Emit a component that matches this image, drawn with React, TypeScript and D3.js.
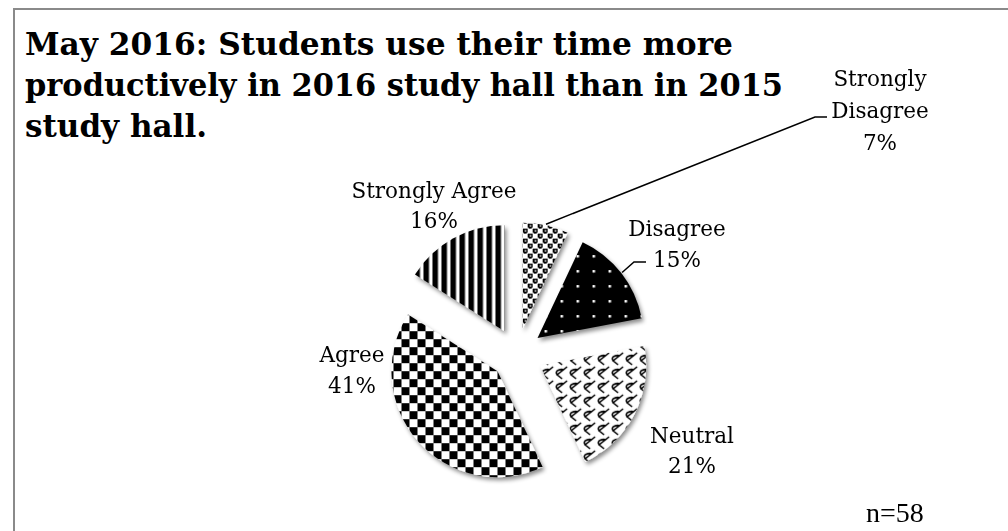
import React from 'react';
import * as d3 from 'd3';

const categories = ['Strongly Disagree', 'Disagree', 'Neutral', 'Agree', 'Strongly Agree'];
const values = [7, 15, 21, 41, 16];
const labelNames = [['Strongly', 'Disagree'], ['Disagree'], ['Neutral'], ['Agree'], ['Strongly Agree']];
const titleLines = [
  'May 2016: Students use their time more',
  'productively in 2016 study hall than in 2015',
  'study hall.',
];
const titleWidths = [708, 758, 182];
const sampleNote = 'n=58';

const W = 1008;
const H = 531;
const CX = 517;
const CY = 354;
const R = 106;
const EXPLODE = 26;

const labelLayout = [
  { x: 880, y: 86, dy: 32, leader: [[815, 117], [827, 117]] },
  { x: 677, y: 236, dy: 31, leader: [[634, 262], [646, 262]] },
  { x: 692, y: 443, dy: 30, leader: null },
  { x: 352, y: 362, dy: 31, leader: null },
  { x: 434, y: 198, dy: 30, leader: null },
];
const patternIds = ['pSD', 'pD', 'pN', 'pA', 'pSA'];

export default function App() {
  const pie = d3.pie<number>().sort(null).value((d) => d).startAngle(0).endAngle(2 * Math.PI);
  const arcs = pie(values);
  const arcGen = d3.arc<d3.PieArcDatum<number>>().innerRadius(0).outerRadius(R);
  const total = d3.sum(values);

  const offset = (a: d3.PieArcDatum<number>) => {
    const mid = (a.startAngle + a.endAngle) / 2;
    return [Math.sin(mid) * EXPLODE, -Math.cos(mid) * EXPLODE];
  };

  const labelFont = 'DejaVu Serif, serif';

  return (
    <svg width={W} height={H} style={{ position: 'absolute', left: 0, top: 0, background: '#fff' }}>
      <defs>
        <filter id="shadow" x="-20%" y="-20%" width="140%" height="140%">
          <feDropShadow dx="2" dy="3" stdDeviation="2.2" floodColor="#000" floodOpacity="0.45" />
        </filter>
        <pattern id="pSD" patternUnits="userSpaceOnUse" width="10" height="10">
          <rect width="10" height="10" fill="#fff" />
          <rect x="0" y="0" width="5" height="4" fill="#000" />
          <rect x="5" y="5" width="5" height="4" fill="#000" />
          <rect x="1" y="4" width="3" height="1" fill="#000" />
          <rect x="6" y="9" width="3" height="1" fill="#000" />
          <rect x="2" y="1.5" width="1.5" height="1.5" fill="#fff" />
          <rect x="7" y="6.5" width="1.5" height="1.5" fill="#fff" />
        </pattern>
        <pattern id="pD" patternUnits="userSpaceOnUse" width="16" height="15">
          <rect width="16" height="15" fill="#000" />
          <rect x="7" y="7" width="2.5" height="2.5" fill="#fff" />
        </pattern>
        <pattern id="pN" patternUnits="userSpaceOnUse" width="14" height="14">
          <rect width="14" height="14" fill="#fff" />
          <path d="M13,1 L3,9 L8,13 M3,9 Q1,6 4,4.5 Q7,3 10,4" fill="none" stroke="#000" strokeWidth="1.6" />
        </pattern>
        <pattern id="pA" patternUnits="userSpaceOnUse" width="16" height="16">
          <rect width="16" height="16" fill="#fff" />
          <rect x="0" y="0" width="8" height="8" fill="#000" />
          <rect x="8" y="8" width="8" height="8" fill="#000" />
        </pattern>
        <pattern id="pSA" patternUnits="userSpaceOnUse" width="9" height="8">
          <rect width="9" height="8" fill="#fff" />
          <rect x="0" y="0" width="5.5" height="8" fill="#000" />
        </pattern>
      </defs>

      <line x1={13} y1={9} x2={W} y2={9} stroke="#8a8a8a" strokeWidth={2} />
      <line x1={14} y1={8} x2={14} y2={H} stroke="#8a8a8a" strokeWidth={2} />

      {titleLines.map((t, i) => (
        <text
          key={i}
          x={25}
          y={55 + i * 41}
          fontFamily="DejaVu Serif, serif"
          fontWeight="bold"
          fontSize={31}
          textLength={titleWidths[i]}
          lengthAdjust="spacingAndGlyphs"
          fill="#000"
        >
          {t}
        </text>
      ))}

      <g filter="url(#shadow)">
        {arcs.map((a, i) => {
          const [ox, oy] = offset(a);
          return (
            <path
              key={categories[i]}
              d={arcGen(a) || ''}
              transform={`translate(${CX + ox},${CY + oy})`}
              fill={`url(#${patternIds[i]})`}
            />
          );
        })}
      </g>

      {arcs.map((a, i) => {
        const lay = labelLayout[i];
        if (!lay.leader) return null;
        const [ox, oy] = offset(a);
        const mid = (a.startAngle + a.endAngle) / 2;
        const sx = CX + ox + Math.sin(mid) * (R + 1);
        const sy = CY + oy - Math.cos(mid) * (R + 1);
        const pts = [[sx, sy], ...lay.leader];
        return (
          <path
            key={'l' + i}
            d={d3.line()(pts as [number, number][]) || ''}
            fill="none"
            stroke="#000"
            strokeWidth={1.5}
          />
        );
      })}

      {arcs.map((a, i) => {
        const lay = labelLayout[i];
        const lines = [...labelNames[i], `${Math.round((values[i] / total) * 100)}%`];
        return (
          <text key={'t' + i} fontFamily={labelFont} fontSize={21.5} fill="#000" textAnchor="middle">
            {lines.map((ln, j) => (
              <tspan key={j} x={lay.x} y={lay.y + j * lay.dy}>
                {ln}
              </tspan>
            ))}
          </text>
        );
      })}

      <text x={866} y={522} fontFamily="Liberation Serif, serif" fontSize={28} fill="#000">
        {sampleNote}
      </text>
    </svg>
  );
}
